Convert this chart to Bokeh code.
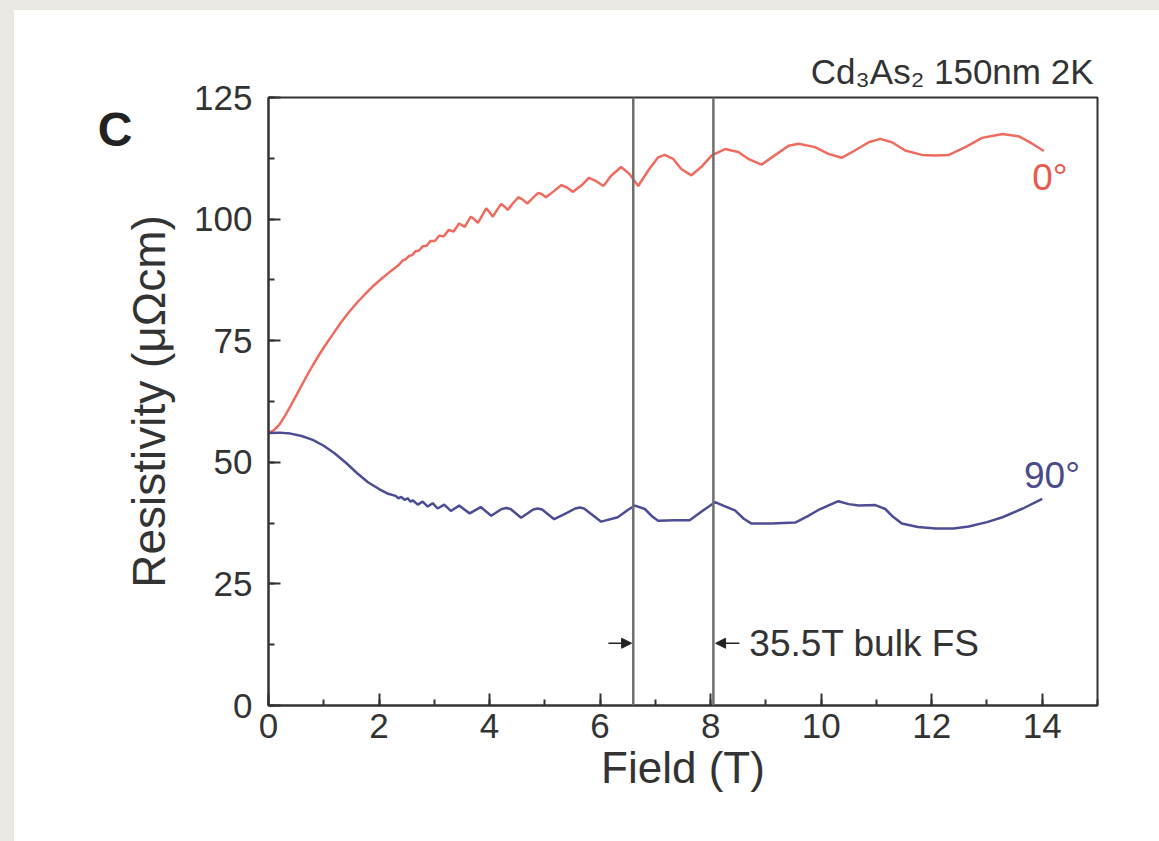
from bokeh.plotting import figure
from bokeh.models import (Range1d, Span, Label, Arrow, NormalHead, SingleIntervalTicker, Title,
                          LinearAxis, FixedTicker)
from bokeh.embed import file_html
from bokeh.resources import INLINE

# ---- data ----
field_0deg = [0.00, 0.10, 0.20, 0.30, 0.40, 0.50, 0.60, 0.70, 0.80, 0.90, 1.00, 1.15, 1.30, 1.45,
              1.60, 1.75, 1.90, 2.05, 2.20, 2.35, 2.43, 2.48, 2.54, 2.60, 2.66, 2.72, 2.79, 2.86,
              2.93, 3.01, 3.09, 3.17, 3.26, 3.35, 3.45, 3.55, 3.66, 3.72, 3.79, 3.86, 3.94, 4.00,
              4.06, 4.13, 4.21, 4.27, 4.33, 4.42, 4.52, 4.60, 4.68, 4.78, 4.88, 4.95, 5.02, 5.16,
              5.30, 5.40, 5.51, 5.66, 5.80, 5.93, 6.06, 6.20, 6.38, 6.53, 6.69, 6.87, 7.05, 7.17,
              7.32, 7.47, 7.65, 7.83, 8.02, 8.26, 8.50, 8.68, 8.92, 9.16, 9.41, 9.59, 9.89, 10.13,
              10.37, 10.61, 10.86, 11.07, 11.28, 11.52, 11.82, 12.07, 12.31, 12.61, 12.91, 13.28,
              13.58, 13.82, 14.03]
rho_0deg = [56.0, 56.6, 57.8, 59.6, 61.6, 63.7, 65.8, 67.9, 69.9, 71.8, 73.6, 76.1, 78.6, 80.8,
            82.8, 84.6, 86.3, 87.8, 89.2, 90.5, 91.5, 91.7, 92.4, 92.6, 93.4, 93.5, 94.4, 94.5,
            95.5, 95.5, 96.6, 96.45, 97.75, 97.45, 99.1, 98.4, 100.5, 100.0, 99.2, 100.6, 102.2, 101.4,
            100.5, 101.8, 103.1, 102.6, 101.9, 103.2, 104.5, 104.0, 103.2, 104.3, 105.4, 105.1, 104.5, 105.7,
            107.0, 106.5, 105.6, 106.9, 108.5, 107.8, 106.8, 108.9, 110.7, 109.3, 106.8, 110.0, 112.7, 113.2,
            112.4, 110.3, 109.0, 110.7, 113.1, 114.4, 113.8, 112.4, 111.2, 113.1, 115.1, 115.5, 114.8, 113.4,
            112.6, 114.1, 115.8, 116.5, 115.8, 114.1, 113.2, 113.1, 113.2, 114.8, 116.7, 117.5,
            117.0, 115.5, 114.0]

field_90deg = [0.00, 0.20, 0.40, 0.60, 0.80, 1.00, 1.20, 1.40, 1.60, 1.80, 2.00, 2.15, 2.30, 2.35,
               2.40, 2.46, 2.52, 2.57, 2.61, 2.70, 2.79, 2.88, 2.97, 3.06, 3.18, 3.30, 3.45, 3.64,
               3.84, 4.03, 4.22, 4.30, 4.38, 4.57, 4.79, 4.87, 4.95, 5.17, 5.40, 5.55, 5.63, 5.71,
               6.02, 6.32, 6.50, 6.63, 6.81, 6.95, 7.05, 7.35, 7.62, 7.85, 8.08, 8.25, 8.44, 8.60,
               8.74, 9.10, 9.53, 9.75, 9.95, 10.31, 10.50, 10.68, 10.98, 11.16, 11.30, 11.46, 11.75,
               12.07, 12.40, 12.67, 13.00, 13.28, 13.65, 14.00]
rho_90deg = [56.0, 56.1, 55.9, 55.4, 54.6, 53.4, 51.8, 49.9, 47.8, 45.9, 44.5, 43.6, 43.1, 42.6,
             42.9, 42.3, 42.6, 41.9, 42.2, 41.3, 41.9, 40.9, 41.6, 40.5, 41.3, 40.0, 41.1, 39.5,
             40.8, 39.0, 40.4, 40.6, 40.4, 38.6, 40.3, 40.5, 40.3, 38.3, 39.6, 40.5, 40.7, 40.5,
             37.8, 38.7, 40.2, 41.1, 40.4, 38.8, 38.0, 38.1, 38.1, 40.0, 41.8, 41.0, 40.1, 38.4,
             37.4, 37.4, 37.6, 38.9, 40.2, 42.0, 41.4, 41.1, 41.2, 40.4, 38.8, 37.4, 36.7,
             36.4, 36.4, 36.8, 37.7, 38.7, 40.5, 42.5]

marker_fields = [6.6, 8.05]

FONT = "Liberation Sans"
TXT = "#333333"
RED = "#ef6b60"
BLUE = "#4d4d96"
EDGE = "#ebe8e3"

p = figure(width=1159, height=841, x_range=Range1d(0, 15), y_range=Range1d(0, 125),
           output_backend="svg", toolbar_location=None,
           min_border_left=268, min_border_right=62, min_border_top=97, min_border_bottom=136)
p.styles = {"background": (f"linear-gradient(to bottom, {EDGE} 0px, {EDGE} 10px, rgba(255,255,255,0) 10px), "
                           f"linear-gradient(to right, {EDGE} 0px, {EDGE} 14px, #ffffff 14px)")}
p.background_fill_color = "white"
p.border_fill_alpha = 0
p.outline_line_color = TXT
p.outline_line_width = 2
p.grid.visible = False

p.xaxis.ticker = SingleIntervalTicker(interval=2, num_minor_ticks=2)
p.yaxis.ticker = SingleIntervalTicker(interval=25, num_minor_ticks=2)
for ax in (p.xaxis, p.yaxis):
    ax.major_tick_in = 12
    ax.major_tick_out = 0
    ax.minor_tick_in = 6
    ax.minor_tick_out = 0
    ax.major_tick_line_color = TXT
    ax.minor_tick_line_color = TXT
    ax.major_tick_line_width = 2
    ax.minor_tick_line_width = 2
    ax.axis_line_color = TXT
    ax.axis_line_width = 2
    ax.major_label_text_font = FONT
    ax.major_label_text_font_size = "35px"
    ax.major_label_text_color = TXT
    ax.axis_label_text_font = FONT
    ax.axis_label_text_font_style = "normal"
    ax.axis_label_text_color = TXT

p.xaxis.axis_label = "Field (T)"
p.yaxis.axis_label = "Resistivity (μΩcm)"
p.xaxis.axis_label_text_font_size = "44px"
p.yaxis.axis_label_text_font_size = "46px"
p.xaxis.major_label_standoff = 8
p.xaxis.axis_label_standoff = 2
p.yaxis.major_label_standoff = 16
p.yaxis.axis_label_standoff = 16

# panel letter as a horizontal label of an extra, invisible left axis
c_axis = LinearAxis(ticker=FixedTicker(ticks=[]), axis_label="\nC", axis_label_standoff=-12,
                    axis_line_alpha=0, major_tick_line_alpha=0, minor_tick_line_alpha=0,
                    major_label_text_alpha=0, axis_label_text_font=FONT,
                    axis_label_text_font_size="48px", axis_label_text_font_style="bold",
                    axis_label_text_color="#222222")
try:
    c_axis.axis_label_orientation = "horizontal"
except Exception:
    pass
try:
    c_axis.axis_label_align = "end"
except Exception:
    pass
p.add_layout(c_axis, "left")

title = Title(text="Cd₃As₂ 150nm 2K", align="right", text_font=FONT, text_font_size="35px",
              text_font_style="normal", text_color=TXT, standoff=14, offset=4)
p.add_layout(title, "above")

for xv in marker_fields:
    p.add_layout(Span(location=xv, dimension="height", line_color="#6f6f6f", line_width=2.5))

p.line(field_0deg, rho_0deg, line_color=RED, line_width=2.5)
p.line(field_90deg, rho_90deg, line_color=BLUE, line_width=2.5)

p.add_layout(Label(x=13.82, y=108.5, text="0°", text_color="#e85a4f", text_font=FONT,
                   text_font_size="37px", text_baseline="alphabetic"))
p.add_layout(Label(x=13.67, y=47.3, text="90°", text_color="#4a4a8c", text_font=FONT,
                   text_font_size="37px", text_baseline="alphabetic"))

p.add_layout(Arrow(end=NormalHead(size=10, fill_color="#222222", line_color="#222222"),
                   x_start=6.15, y_start=12.8, x_end=6.57, y_end=12.8,
                   line_width=1.5, line_color="#222222"))
p.add_layout(Arrow(end=NormalHead(size=10, fill_color="#222222", line_color="#222222"),
                   x_start=8.52, y_start=12.8, x_end=8.09, y_end=12.8,
                   line_width=1.5, line_color="#222222"))
p.add_layout(Label(x=8.70, y=12.8, text="35.5T bulk FS", text_color=TXT, text_font=FONT,
                   text_font_size="37px", text_baseline="middle"))

open("out.html", "w").write(file_html(p, INLINE))
